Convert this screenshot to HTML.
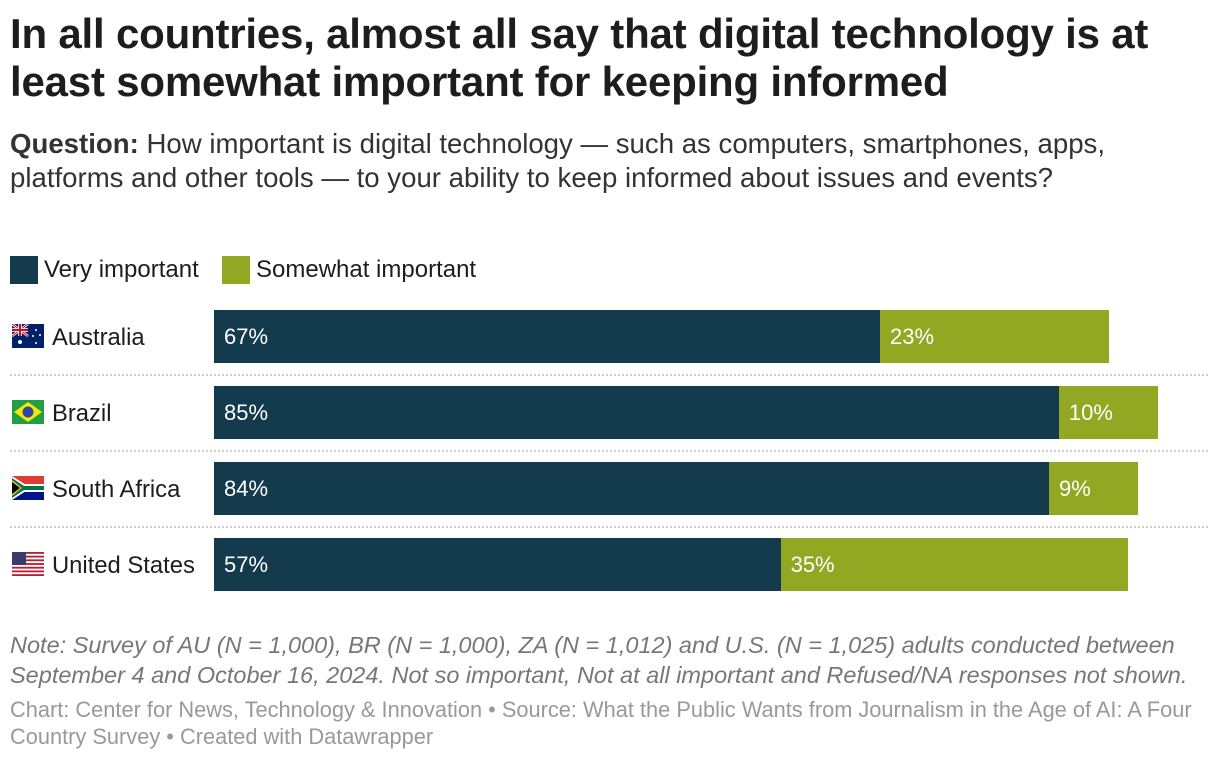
<!DOCTYPE html>
<html><head><meta charset="utf-8"><style>
body{margin:0;width:1220px;height:762px;background:#fff;font-family:"Liberation Sans",Arial,sans-serif;color:#1d1d1d;position:relative;overflow:hidden}
.abs{position:absolute}
h1{position:absolute;left:10px;top:10px;margin:0;font-size:42px;line-height:48px;font-weight:bold;letter-spacing:-0.2px;width:1210px;white-space:nowrap}
.sub{left:10px;top:127px;font-size:27.6px;line-height:34px;color:#333;white-space:nowrap}
.leg{top:256px;font-size:24px;line-height:28px}
.sw{display:inline-block;width:28px;height:28px;vertical-align:top;margin-right:6px}
.lab{left:52px;font-size:23.8px}
.note{left:10px;top:630px;font-size:23.5px;line-height:30px;font-style:italic;color:#777;white-space:nowrap}
.foot{left:10px;top:696px;font-size:21.8px;line-height:27px;color:#999;white-space:nowrap}
.sep{left:10px;width:1198px;border-top:2px dotted #ccc;height:0}
</style></head><body>
<h1>In all countries, almost all say that digital technology is at<br>least somewhat important for keeping informed</h1>
<div class="abs sub"><b>Question:</b> How important is digital technology — such as computers, smartphones, apps,<br>platforms and other tools — to your ability to keep informed about issues and events?</div>
<div class="abs leg" style="left:10px"><span class="sw" style="background:#143a4e"></span>Very important</div>
<div class="abs leg" style="left:222px"><span class="sw" style="background:#93a822"></span>Somewhat important</div>
<div id="chart"></div>
<div class="abs note">Note: Survey of AU (N = 1,000), BR (N = 1,000), ZA (N = 1,012) and U.S. (N = 1,025) adults conducted between<br>September 4 and October 16, 2024. Not so important, Not at all important and Refused/NA responses not shown.</div>
<div class="abs foot">Chart: Center for News, Technology &amp; Innovation • Source: What the Public Wants from Journalism in the Age of AI: A Four<br>Country Survey • Created with Datawrapper</div>
<script>
const countries=["Australia","Brazil","South Africa","United States"];
const veryImportant=[67,85,84,57];
const somewhatImportant=[23,10,9,35];
const flags=[
'<rect width="32" height="24" fill="#012169"/><path d="M0 0L16 12M16 0L0 12" stroke="#fff" stroke-width="2.5"/><path d="M0 0L16 12M16 0L0 12" stroke="#c8102e" stroke-width="1"/><path d="M8 0V12M0 6H16" stroke="#fff" stroke-width="3.5"/><path d="M8 0V12M0 6H16" stroke="#c8102e" stroke-width="2"/><circle cx="8" cy="18" r="2" fill="#fff"/><circle cx="24" cy="6" r="1" fill="#fff"/><circle cx="28" cy="11" r="1" fill="#fff"/><circle cx="21" cy="12" r="1" fill="#fff"/><circle cx="24" cy="19" r="1" fill="#fff"/>',
'<rect width="32" height="24" fill="#229e45"/><path d="M16 2L30 12L16 22L2 12Z" fill="#f8e509"/><circle cx="16" cy="12" r="5.5" fill="#2b49a3"/>',
'<rect width="32" height="24" fill="#fff"/><rect width="32" height="8" fill="#e03c31"/><rect y="16" width="32" height="8" fill="#001489"/><path d="M0 0L14 9H32V15H14L0 24Z" fill="#fff"/><path d="M0 2L12 10H32V14H12L0 22Z" fill="#007749"/><path d="M0 4L10 12L0 20Z" fill="#ffb81c"/><path d="M0 6L8 12L0 18Z" fill="#000"/>',
'<rect width="32" height="24" fill="#fff"/>'+[0,2,4,6,8,10,12].map(i=>'<rect y="'+(i*24/13)+'" width="32" height="'+(24/13)+'" fill="#b22234"/>').join('')+'<rect width="14" height="13" fill="#3c3b6e"/>'
];
const x0=214,pxPer=9.94,y0=310,step=76,bh=53;
const xs=v=>x0+v*pxPer;
const c=document.getElementById('chart');
countries.forEach((n,i)=>{
  const y=y0+i*step;
  const row=document.createElement('div');
  
  
  let h='<svg class="abs" style="left:12px;top:'+(y+14)+'px" width="32" height="24">'+flags[i]+'</svg>';
  h+='<div class="abs lab" style="top:'+(y+14)+'px">'+n+'</div>';
  const w1=xs(veryImportant[i])-x0,w2=xs(veryImportant[i]+somewhatImportant[i])-xs(veryImportant[i]);
  h+='<div class="abs" style="left:'+x0+'px;top:'+y+'px;width:'+w1+'px;height:'+bh+'px;background:#143a4e;color:#fff;font-size:22px;line-height:'+bh+'px;box-sizing:border-box;padding-left:10px">'+veryImportant[i]+'%</div>';
  h+='<div class="abs" style="left:'+xs(veryImportant[i])+'px;top:'+y+'px;width:'+w2+'px;height:'+bh+'px;background:#93a822;color:#fff;font-size:22px;line-height:'+bh+'px;box-sizing:border-box;padding-left:10px">'+somewhatImportant[i]+'%</div>';
  if(i<countries.length-1) h+='<div class="abs sep" style="top:'+(y+bh+11)+'px"></div>';
  row.innerHTML=h;
  c.appendChild(row);
});
</script>
</body></html>
